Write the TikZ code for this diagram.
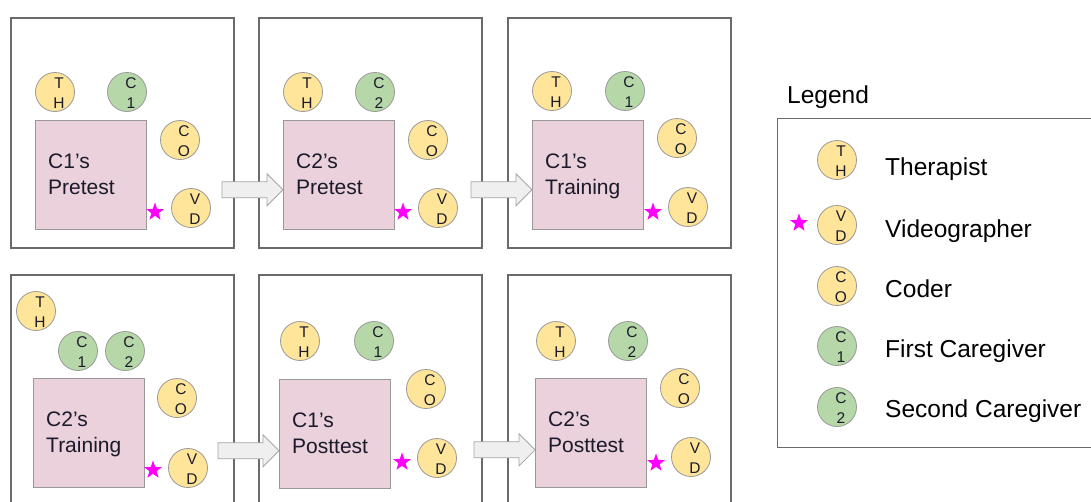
\documentclass[tikz,border=0pt]{standalone}
\usepackage{fontspec}
\setmainfont{Liberation Sans}
\usetikzlibrary{shapes.geometric,calc}
\definecolor{yel}{HTML}{FFE599}
\definecolor{grn}{HTML}{B6D7A8}
\definecolor{pnk}{HTML}{EAD1DC}
\definecolor{cbord}{HTML}{999999}
\definecolor{bbord}{HTML}{6A6A6A}
\definecolor{afill}{HTML}{EFEFEF}
\definecolor{abord}{HTML}{A6A6A6}
\definecolor{mag}{HTML}{FF00FF}
\definecolor{ink}{HTML}{1A1A2A}
\tikzset{
  room/.style={draw=bbord,line width=1.5pt,fill=none,minimum width=223pt,inner sep=0pt},
  sess/.style={draw=cbord,line width=0.8pt,fill=pnk,minimum width=111pt,minimum height=109pt,inner sep=0pt},
  circ/.style={circle,draw=cbord,line width=0.8pt,minimum size=39pt,inner sep=0pt},
  let/.style={anchor=base,inner sep=0pt,text=ink,font=\fontsize{15.5}{15.5}\selectfont},
  sesstxt/.style={anchor=base west,inner sep=0pt,text=ink,font=\fontsize{21}{21}\selectfont},
  legtxt/.style={anchor=base west,inner sep=0pt,text=black,font=\fontsize{24.5}{24.5}\selectfont},
  vstar/.style={star,star points=5,star point ratio=2.5,fill=mag,draw=none,minimum size=19pt,inner sep=0pt},
  barrow/.style={draw=abord,fill=afill,line width=0.8pt,line join=miter}
}
% #1 name, #2 x, #3 y, #4 fill, #5 upper letter, #6 lower letter
\newcommand\pers[6]{%
  \node[circ,fill=#4] (#1) at (#2,#3) {};
  \node[let] (#1u) at ([xshift=4pt,yshift=4pt]#1.center) {#5};
  \node[let] (#1l) at ([xshift=4pt,yshift=-16pt]#1.center) {#6};
}
% #1 name, #2 left, #3 top, #4 line1, #5 line2
\newcommand\sessbox[5]{%
  \node[sess,anchor=north west] (#1) at (#2,#3) {};
  \node[sesstxt] (#1a) at (#2+13,#3+48) {#4};
  \node[sesstxt] (#1b) at (#2+13,#3+74) {#5};
}
% block arrow: #1 name of tip coordinate, #2 target node, #3 offset up from its south west
\newcommand\blockarrow[3]{%
  \coordinate (#1) at ($(#2.south west)+(0,-#3)$);
  \draw[barrow] ($(#1)+(-61,-8)$) -- ($(#1)+(-16,-8)$) -- ($(#1)+(-16,-16)$) -- (#1)
    -- ($(#1)+(-16,16)$) -- ($(#1)+(-16,8)$) -- ($(#1)+(-61,8)$) -- cycle;
}
\begin{document}
\begin{tikzpicture}[x=1pt,y=-1pt]
\clip (0,0) rectangle (1091,501);
\fill[white] (0,0) rectangle (1091,501);
% rooms
\node[room,minimum height=230pt] (b1) at (122.5,133) {};
\node[room,minimum height=230pt] (b2) at (370.5,133) {};
\node[room,minimum height=230pt] (b3) at (619.5,133) {};
\node[room,minimum height=245pt] (b4) at (122.5,397.5) {};
\node[room,minimum height=245pt] (b5) at (370.5,397.5) {};
\node[room,minimum height=245pt] (b6) at (619.5,397.5) {};
% sessions
\sessbox{p1}{35}{120}{C1's}{Pretest}
\sessbox{p2}{283}{120}{C2's}{Pretest}
\sessbox{p3}{532}{120}{C1's}{Training}
\sessbox{p4}{33}{378}{C2's}{Training}
\sessbox{p5}{279}{379}{C1's}{Posttest}
\sessbox{p6}{535}{378}{C2's}{Posttest}
% people box 1
\pers{th1}{55}{92}{yel}{T}{H}
\pers{cg1}{127}{92}{grn}{C}{1}
\pers{co1}{180}{140}{yel}{C}{O}
\pers{vd1}{191}{208}{yel}{V}{D}
\node[vstar] (s1) at (155,212) {};
% box 2
\pers{th2}{303}{92}{yel}{T}{H}
\pers{cg2}{375}{92}{grn}{C}{2}
\pers{co2}{428}{140}{yel}{C}{O}
\pers{vd2}{438}{208}{yel}{V}{D}
\node[vstar] (s2) at (403,212) {};
% box 3
\pers{th3}{552}{91}{yel}{T}{H}
\pers{cg3}{625}{91}{grn}{C}{1}
\pers{co3}{677}{138}{yel}{C}{O}
\pers{vd3}{688}{207}{yel}{V}{D}
\node[vstar] (s3) at (653,212) {};
% box 4
\pers{th4}{36}{311}{yel}{T}{H}
\pers{cg4a}{78}{351}{grn}{C}{1}
\pers{cg4b}{125}{351}{grn}{C}{2}
\pers{co4}{177}{398}{yel}{C}{O}
\pers{vd4}{188}{468}{yel}{V}{D}
\node[vstar] (s4) at (153,470) {};
% box 5
\pers{th5}{300}{341}{yel}{T}{H}
\pers{cg5}{374}{341}{grn}{C}{1}
\pers{co5}{426}{389}{yel}{C}{O}
\pers{vd5}{437}{458}{yel}{V}{D}
\node[vstar] (s5) at (402,462) {};
% box 6
\pers{th6}{556}{341}{yel}{T}{H}
\pers{cg6}{628}{341}{grn}{C}{2}
\pers{co6}{680}{388}{yel}{C}{O}
\pers{vd6}{691}{457}{yel}{V}{D}
\node[vstar] (s6) at (656,463) {};
% arrows
\blockarrow{a12}{p2}{40}
\blockarrow{a23}{p3}{40}
\blockarrow{a45}{p5}{38}
\blockarrow{a56}{p6}{38}
% legend
\node[legtxt] (legt) at (787,103) {Legend};
\node[draw=bbord,line width=1.2pt,anchor=north west,minimum width=330pt,minimum height=329pt,inner sep=0pt] (leg) at (777,118) {};
\pers{lth}{837}{160}{yel}{T}{H}
\node[legtxt] (lt1) at (885,175) {Therapist};
\pers{lvd}{837}{225}{yel}{V}{D}
\node[vstar] (ls) at (799,223) {};
\node[legtxt] (lt2) at (885,237) {Videographer};
\pers{lco}{837}{286}{yel}{C}{O}
\node[legtxt] (lt3) at (885,297) {Coder};
\pers{lc1}{837}{346}{grn}{C}{1}
\node[legtxt] (lt4) at (885,357) {First Caregiver};
\pers{lc2}{837}{407}{grn}{C}{2}
\node[legtxt] (lt5) at (885,417) {Second Caregiver};
\end{tikzpicture}
\end{document}
